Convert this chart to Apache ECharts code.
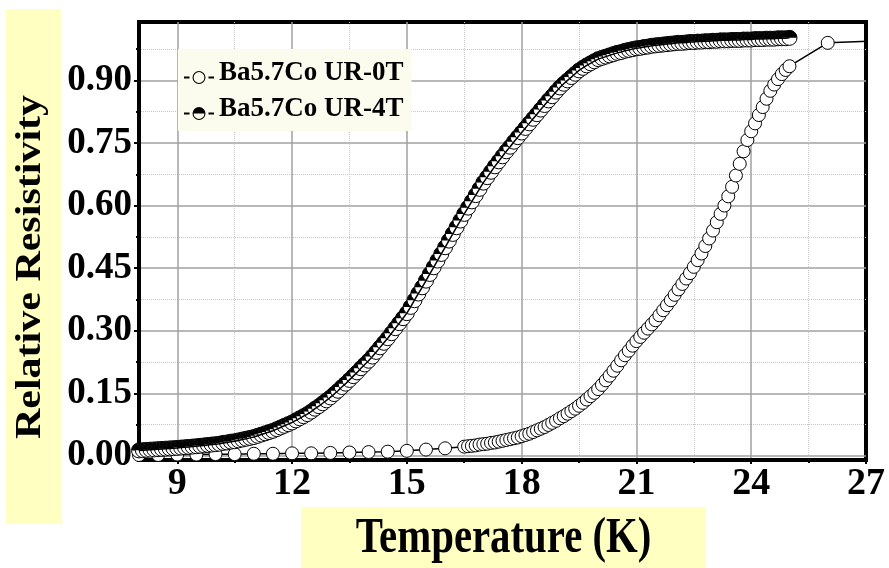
<!DOCTYPE html>
<html>
<head>
<meta charset="utf-8">
<script src="https://cdn.jsdelivr.net/npm/echarts@6/dist/echarts.min.js"></script>
<style>
  html, body { margin: 0; padding: 0; background: #fff; }
  #chart { width: 889px; height: 568px; }
</style>
</head>
<body>
<div id="chart"></div>
<script>
const seriesNames = ['Ba5.7Co UR-0T', 'Ba5.7Co UR-4T'];

// [temperature (K), relative resistivity]
const ur0T = [
  [8.0, 0.002], [8.5, 0.002], [9.0, 0.003], [9.5, 0.003], [10.0, 0.004], [10.5, 0.004],
  [11.0, 0.005], [11.5, 0.005], [12.0, 0.006], [12.5, 0.006], [13.0, 0.007], [13.5, 0.008],
  [14.0, 0.009], [14.5, 0.010], [15.0, 0.012], [15.5, 0.015], [16.0, 0.018],
  [16.5, 0.022], [16.6, 0.023], [16.7, 0.024], [16.8, 0.025], [16.9, 0.027],
  [17.0, 0.028], [17.1, 0.029], [17.2, 0.031], [17.3, 0.032], [17.4, 0.034],
  [17.5, 0.036], [17.6, 0.038], [17.7, 0.040], [17.8, 0.042], [17.9, 0.044],
  [18.0, 0.047], [18.1, 0.050], [18.2, 0.053], [18.3, 0.057], [18.4, 0.061],
  [18.5, 0.065], [18.6, 0.069], [18.7, 0.074], [18.8, 0.079], [18.9, 0.084],
  [19.0, 0.090], [19.1, 0.095], [19.2, 0.101], [19.3, 0.107], [19.4, 0.113],
  [19.5, 0.120], [19.6, 0.127], [19.7, 0.135], [19.8, 0.143], [19.9, 0.151],
  [20.0, 0.160], [20.1, 0.170], [20.2, 0.181], [20.3, 0.192], [20.4, 0.204],
  [20.5, 0.216], [20.6, 0.229], [20.7, 0.241], [20.8, 0.252], [20.9, 0.264],
  [21.0, 0.275], [21.1, 0.285], [21.2, 0.295], [21.3, 0.305], [21.4, 0.315],
  [21.5, 0.325], [21.6, 0.337], [21.7, 0.349], [21.8, 0.361], [21.9, 0.373],
  [22.0, 0.386], [22.1, 0.399], [22.2, 0.412], [22.3, 0.425], [22.4, 0.438],
  [22.5, 0.453], [22.6, 0.469], [22.7, 0.485], [22.8, 0.503], [22.9, 0.521],
  [23.0, 0.540], [23.1, 0.560], [23.2, 0.580], [23.3, 0.600], [23.4, 0.622],
  [23.5, 0.645], [23.6, 0.672], [23.7, 0.700], [23.8, 0.730], [23.9, 0.757],
  [24.0, 0.778], [24.1, 0.797], [24.2, 0.817], [24.3, 0.836], [24.4, 0.856],
  [24.5, 0.875], [24.6, 0.890], [24.7, 0.903], [24.8, 0.915], [24.9, 0.925],
  [25.0, 0.934], [26.0, 0.990], [27.6, 0.996]
];

const ur4T = [
  [8.0, 0.0130], [8.1, 0.0136], [8.2, 0.0142], [8.3, 0.0148], [8.4, 0.0154],
  [8.5, 0.0160], [8.6, 0.0166], [8.7, 0.0172], [8.8, 0.0178], [8.9, 0.0184],
  [9.0, 0.0190], [9.1, 0.0198], [9.2, 0.0206], [9.3, 0.0214], [9.4, 0.0222],
  [9.5, 0.023], [9.6, 0.024], [9.7, 0.025], [9.8, 0.026], [9.9, 0.027],
  [10.0, 0.028], [10.1, 0.029], [10.2, 0.031], [10.3, 0.032], [10.4, 0.034],
  [10.5, 0.035], [10.6, 0.037], [10.7, 0.039], [10.8, 0.041], [10.9, 0.043],
  [11.0, 0.045], [11.1, 0.048], [11.2, 0.051], [11.3, 0.054], [11.4, 0.057],
  [11.5, 0.060], [11.6, 0.064], [11.7, 0.068], [11.8, 0.072], [11.9, 0.076],
  [12.0, 0.080], [12.1, 0.085], [12.2, 0.090], [12.3, 0.095], [12.4, 0.100],
  [12.5, 0.106], [12.6, 0.113], [12.7, 0.119], [12.8, 0.126], [12.9, 0.133],
  [13.0, 0.140], [13.1, 0.148], [13.2, 0.156], [13.3, 0.165], [13.4, 0.173],
  [13.5, 0.182], [13.6, 0.191], [13.7, 0.200], [13.8, 0.210], [13.9, 0.219],
  [14.0, 0.228], [14.1, 0.238], [14.2, 0.249], [14.3, 0.260], [14.4, 0.271],
  [14.5, 0.282], [14.6, 0.294], [14.7, 0.306], [14.8, 0.318], [14.9, 0.330],
  [15.0, 0.342], [15.1, 0.357], [15.2, 0.373], [15.3, 0.389], [15.4, 0.404],
  [15.5, 0.420], [15.6, 0.436], [15.7, 0.452], [15.8, 0.468], [15.9, 0.484],
  [16.0, 0.500], [16.1, 0.516], [16.2, 0.532], [16.3, 0.548], [16.4, 0.564],
  [16.5, 0.580], [16.6, 0.595], [16.7, 0.610], [16.8, 0.625], [16.9, 0.640],
  [17.0, 0.655], [17.1, 0.668], [17.2, 0.681], [17.3, 0.694], [17.4, 0.706],
  [17.5, 0.718], [17.6, 0.730], [17.7, 0.741], [17.8, 0.753], [17.9, 0.764],
  [18.0, 0.775], [18.1, 0.786], [18.2, 0.797], [18.3, 0.808], [18.4, 0.819],
  [18.5, 0.830], [18.6, 0.841], [18.7, 0.852], [18.8, 0.862], [18.9, 0.873],
  [19.0, 0.883], [19.1, 0.892], [19.2, 0.900], [19.3, 0.908], [19.4, 0.916],
  [19.5, 0.924], [19.6, 0.930], [19.7, 0.936], [19.8, 0.941], [19.9, 0.946],
  [20.0, 0.951], [20.1, 0.954], [20.2, 0.957], [20.3, 0.960], [20.4, 0.963],
  [20.5, 0.966], [20.6, 0.968], [20.7, 0.971], [20.8, 0.973], [20.9, 0.975],
  [21.0, 0.977], [21.1, 0.978], [21.2, 0.980], [21.3, 0.981], [21.4, 0.983],
  [21.5, 0.984], [21.6, 0.985], [21.7, 0.986], [21.8, 0.987], [21.9, 0.988],
  [22.0, 0.989], [22.1, 0.990], [22.2, 0.990], [22.3, 0.991], [22.4, 0.992],
  [22.5, 0.992], [22.6, 0.993], [22.7, 0.993], [22.8, 0.994], [22.9, 0.994],
  [23.0, 0.995], [23.1, 0.995], [23.2, 0.996], [23.3, 0.996], [23.4, 0.996],
  [23.5, 0.997], [23.6, 0.997], [23.7, 0.997], [23.8, 0.998], [23.9, 0.998],
  [24.0, 0.998], [24.1, 0.999], [24.2, 0.999], [24.3, 0.999], [24.4, 1.000],
  [24.5, 1.000], [24.6, 1.000], [24.7, 1.001], [24.8, 1.001], [24.9, 1.001],
  [25.0, 1.002]
];

const xMajorTicks = [9, 12, 15, 18, 21, 24, 27];
const xMinorTicks = [10.5, 13.5, 16.5, 19.5, 22.5, 25.5];
const yMajorTicks = [0, 0.15, 0.30, 0.45, 0.60, 0.75, 0.90];
const yMinorTicks = [0.075, 0.225, 0.375, 0.525, 0.675, 0.825, 0.975];

const FONT = "'Liberation Serif', 'Times New Roman', serif";

// legend glyphs: -o- and the half filled -o- (the stray move at the top drops the glyph a little)
const icon0T = 'path://M15,-8L15,-8 M0,5.6H5.5V7.4H0Z M24.5,5.6H30V7.4H24.5Z ' +
  'M8.5,6.5A6.5,6.5,0,1,1,21.5,6.5A6.5,6.5,0,1,1,8.5,6.5Z ' +
  'M9.6,6.5A5.4,5.4,0,1,0,20.4,6.5A5.4,5.4,0,1,0,9.6,6.5Z';
const icon4T = 'path://M15,-8L15,-8 M0,5.6H5.5V7.4H0Z M24.5,5.6H30V7.4H24.5Z ' +
  'M8.5,6.5A6.5,6.5,0,0,1,21.5,6.5Z ' +
  'M8.5,6.5A6.5,6.5,0,0,0,21.5,6.5H20.4A5.4,5.4,0,0,1,9.6,6.5Z';

const chart = echarts.init(document.getElementById('chart'));

const minorAxis = (min, max, ticks, pos) => ({
  type: 'value', min: min, max: max, position: pos,
  axisLine: { show: false, onZero: false },
  axisTick: { show: true, customValues: ticks, length: 3, lineStyle: { color: '#000', width: 2 } },
  axisLabel: { show: false },
  splitLine: { show: true, lineStyle: { color: '#c6c6c6', width: 1, type: 'dotted' } }
});

const option = {
  animation: false,
  backgroundColor: '#fff',
  grid: {
    left: 139, right: 23, top: 22, bottom: 108,
    show: true, borderColor: '#000', borderWidth: 4, backgroundColor: 'transparent'
  },
  legend: {
    orient: 'vertical',
    left: 178, top: 49,
    padding: [11, 8, 8, 6],
    itemGap: 9,
    itemWidth: 30, itemHeight: 21,
    backgroundColor: '#FCFCEE',
    selectedMode: false,
    textStyle: { fontFamily: FONT, fontWeight: 'bold', fontSize: 27, color: '#000' },
    data: [
      { name: seriesNames[0], icon: icon0T, itemStyle: { color: '#000', borderWidth: 0 } },
      { name: seriesNames[1], icon: icon4T, itemStyle: { color: '#000', borderWidth: 0 } }
    ]
  },
  xAxis: [
    {
      type: 'value', min: 8, max: 27, position: 'bottom',
      axisLine: { show: true, onZero: false, lineStyle: { color: '#000', width: 4 } },
      axisTick: { show: true, customValues: xMajorTicks, length: 4, lineStyle: { color: '#000', width: 2 } },
      axisLabel: {
        customValues: xMajorTicks, margin: 5,
        fontFamily: FONT, fontWeight: 'bold', fontSize: 38, color: '#000'
      },
      splitLine: { show: true, showMaxLine: false, lineStyle: { color: '#a0a0a0', width: 1.5 } }
    },
    minorAxis(8, 27, xMinorTicks, 'bottom')
  ],
  yAxis: [
    {
      type: 'value', min: -0.01, max: 1.04, position: 'left',
      axisLine: { show: true, onZero: false, lineStyle: { color: '#000', width: 4 } },
      axisTick: { show: true, customValues: yMajorTicks, length: 5, lineStyle: { color: '#000', width: 2 } },
      axisLabel: {
        customValues: yMajorTicks, margin: 7,
        formatter: (v) => v.toFixed(2),
        fontFamily: FONT, fontWeight: 'bold', fontSize: 37, color: '#000'
      },
      splitLine: { show: true, lineStyle: { color: '#a0a0a0', width: 1.5 } }
    },
    minorAxis(-0.01, 1.04, yMinorTicks, 'left')
  ],
  graphic: [
    { type: 'rect', shape: { x: 6, y: 9, width: 55, height: 515 }, style: { fill: '#FFFFC2' } },
    {
      type: 'text', x: 30.5, y: 267, rotation: Math.PI / 2, scaleY: 0.85,
      style: {
        text: 'Relative Resistivity', fontFamily: FONT, fontWeight: 'bold', fontSize: 42,
        fill: '#000', align: 'center', verticalAlign: 'middle'
      }
    },
    { type: 'rect', shape: { x: 301, y: 507, width: 405, height: 61 }, style: { fill: '#FFFFC2' } },
    {
      type: 'text', x: 503.5, y: 539, scaleX: 0.8,
      style: {
        text: 'Temperature (K)', fontFamily: FONT, fontWeight: 'bold', fontSize: 51,
        fill: '#000', align: 'center', verticalAlign: 'middle'
      }
    }
  ],
  series: [
    {
      name: seriesNames[0],
      type: 'line',
      data: ur0T,
      symbol: 'circle',
      symbolSize: 13,
      itemStyle: { color: '#fff', borderColor: '#000', borderWidth: 1 },
      lineStyle: { color: '#000', width: 1.5 },
      emphasis: { disabled: true },
      clip: true,
      z: 2
    },
    {
      name: '4T line',
      type: 'line',
      data: ur4T,
      symbol: 'none',
      lineStyle: { color: '#000', width: 1.5 },
      emphasis: { disabled: true },
      z: 3
    },
    {
      // half filled circles, drawn one after another like the original plot
      name: seriesNames[1],
      type: 'custom',
      data: ur4T,
      z: 3,
      renderItem: (params, api) => {
        const p = api.coord([api.value(0), api.value(1)]);
        return {
          type: 'group',
          children: [
            { type: 'circle', shape: { cx: p[0], cy: p[1], r: 7.5 },
              style: { fill: '#fff', stroke: '#000', lineWidth: 1 } },
            { type: 'sector', shape: { cx: p[0], cy: p[1], r0: 0, r: 7.5, startAngle: Math.PI, endAngle: 2 * Math.PI, clockwise: true },
              style: { fill: '#000' } }
          ]
        };
      }
    }
  ]
};

chart.setOption(option);
</script>
</body>
</html>
